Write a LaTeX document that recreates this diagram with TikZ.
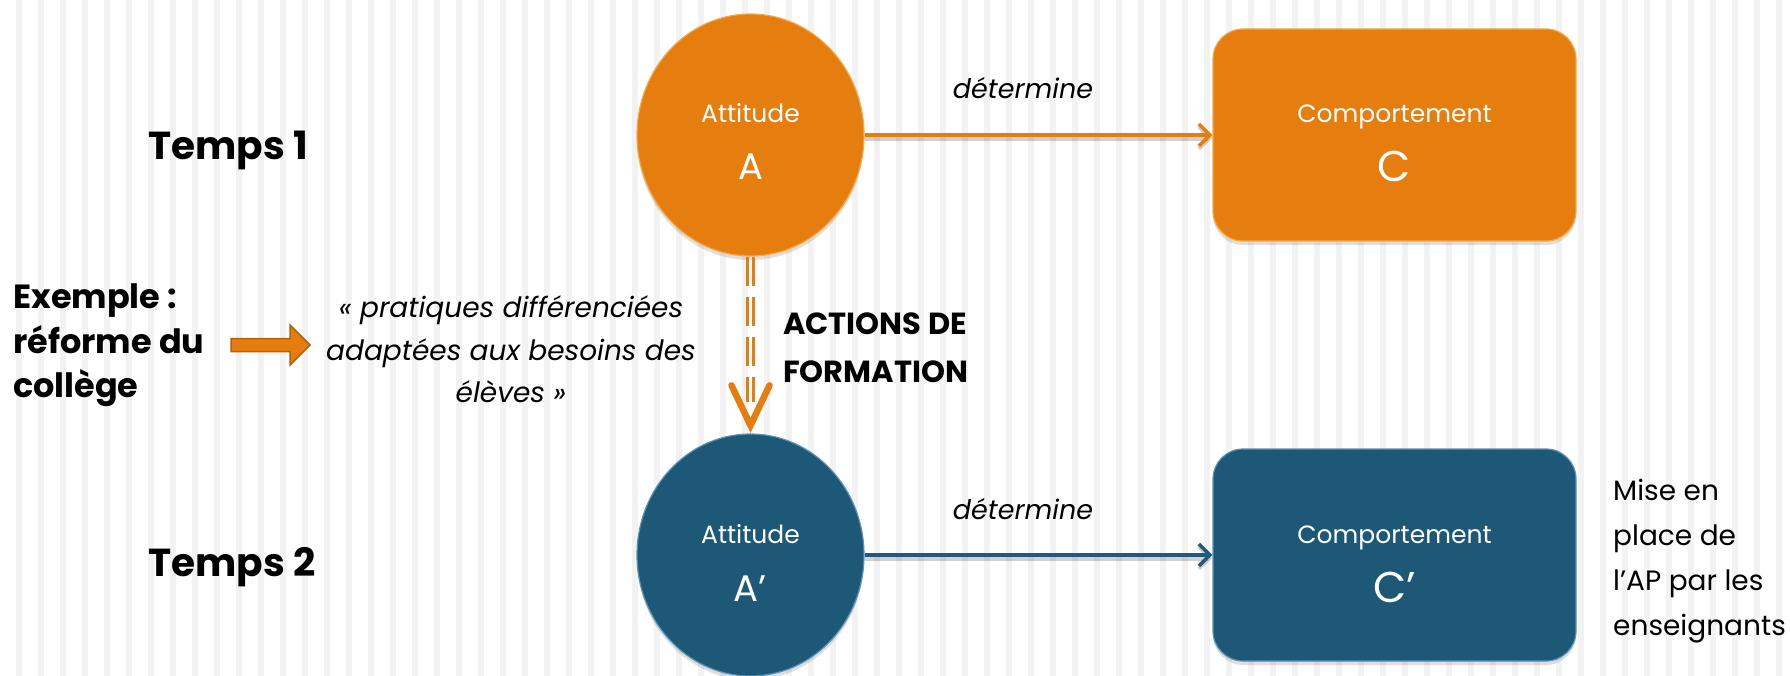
\documentclass[tikz,border=0pt]{standalone}
\usepackage{fontspec}
\setmainfont{Poppins}
\usetikzlibrary{shapes.geometric,arrows.meta,shadows,calc}
\definecolor{org}{HTML}{E67D0F}
\definecolor{orgedge}{HTML}{F4A948}
\definecolor{blu}{HTML}{1E5877}
\definecolor{bluedge}{HTML}{5B93B6}
\definecolor{stripe}{HTML}{F2F2F2}
\definecolor{arrdark}{HTML}{B4600C}
\definecolor{bluline}{HTML}{24597B}
\begin{document}
\begin{tikzpicture}[x=1pt,y=-1pt,
  oval/.style={ellipse, minimum width=227pt, minimum height=242pt, inner sep=0pt, line width=1.2pt,
    drop shadow={shadow xshift=0pt, shadow yshift=-4pt, opacity=.25}},
  cbox/.style={rectangle, rounded corners=30pt, minimum width=363pt, minimum height=212pt, inner sep=0pt, line width=1.2pt,
    drop shadow={shadow xshift=0pt, shadow yshift=-4pt, opacity=.25}},
  intext/.style={text=white, inner sep=0pt, anchor=base},
  small/.style={font=\fontsize{25}{30}\selectfont},
  bigA/.style={font=\fontsize{37}{40}\selectfont},
  bigC/.style={font=\fontsize{43}{46}\selectfont},
  lab/.style={inner sep=0pt, anchor=base, font=\fontsize{27}{32}\selectfont\itshape},
  quoteline/.style={inner sep=0pt, anchor=base, font=\fontsize{28}{32}\selectfont\itshape},
  boldline/.style={inner sep=0pt, anchor=base west, font=\fontsize{33.5}{36}\selectfont\bfseries},
  temps/.style={inner sep=0pt, anchor=base west, font=\fontsize{39}{42}\selectfont\bfseries},
  actline/.style={inner sep=0pt, anchor=base west, font=\fontsize{30.5}{34}\selectfont\bfseries},
  noteline/.style={inner sep=0pt, anchor=base west, font=\fontsize{28}{32}\selectfont},
  linkshadow/.style={preaction={draw=black, opacity=.18, line width=6pt, transform canvas={yshift=-3pt}}},
  oarr/.style={draw=org, line width=4pt, -{Straight Barb[length=11pt, width=22pt, line width=3.5pt]}},
  barr/.style={draw=bluline, line width=4pt, -{Straight Barb[length=11pt, width=22pt, line width=3.5pt]}},
  dline/.style={draw=org, line width=3.2pt, dash pattern=on 29pt off 11pt},
  chev/.style={draw=org, line width=6.5pt, line cap=round, line join=miter},
  blockarrow/.style={fill=org, draw=arrdark, line width=1.5pt, line join=miter}
]
% background
\fill[white] (0,0) rectangle (1790,676);
\useasboundingbox (0,0) rectangle (1790,676);
\foreach \k in {0,...,81} \fill[stripe] ({16+22*\k},0) rectangle ++(6,676);

% main shapes
\node[oval, fill=org, draw=orgedge] (A) at (750.5,135) {};
\node[cbox, fill=org, draw=orgedge] (C) at (1394.5,135) {};
\node[oval, fill=blu, draw=bluedge] (A2) at (750.5,555) {};
\node[cbox, fill=blu, draw=bluedge] (C2) at (1394.5,555) {};

% texts inside
\node[intext, small] (At) at (750.5,123) {Attitude};
\node[intext, bigA] (Al) at (750.5,180) {A};
\node[intext, small] (Ct) at (1394.5,123) {Comportement};
\node[intext, bigC] (Cl) at (1394.5,182) {C};
\node[intext, small] (A2t) at (750.5,543) {Attitude};
\node[intext, bigA] (A2l) at (750.5,601) {A’};
\node[intext, small] (C2t) at (1394.5,543) {Comportement};
\node[intext, bigC] (C2l) at (1394.5,602) {C’};

% horizontal connectors
\draw[oarr, linkshadow] (A.east) -- (C.west);
\draw[barr, linkshadow] (A2.east) -- (C2.west);
\node[lab] (d1) at (1023,99) {détermine};
\node[lab] (d2) at (1023,519) {détermine};

% vertical double dashed arrow
\coordinate (Vend) at ($(A2.north)+(0,-31)$);
\draw[dline, transform canvas={xshift=-3pt}] (A.south) -- (Vend);
\draw[dline, transform canvas={xshift=3pt}] (A.south) -- (Vend);
\coordinate (Vtip) at ($(A2.north)+(0,-8)$);
\draw[chev] ($(Vtip)+(-19,-40)$) -- (Vtip) -- ($(Vtip)+(19,-40)$);

\node[actline] (act1) at (783,334) {ACTIONS DE};
\node[actline] (act2) at (783,382) {FORMATION};

% left texts
\node[temps] (T1) at (148,160) {Temps 1};
\node[temps] (T2) at (148,576) {Temps 2};
\node[boldline] (ex1) at (13,308) {Exemple :};
\node[boldline] (ex2) at (13,353) {réforme du};
\node[boldline] (ex3) at (13,397) {collège};

% block arrow
\draw[blockarrow] (231,338.5) -- (290,338.5) -- (290,325) -- (310,345) -- (290,365) -- (290,351.5) -- (231,351.5) -- cycle;

% quote
\node[quoteline] (q1) at (511,317) {« pratiques différenciées};
\node[quoteline] (q2) at (511,360) {adaptées aux besoins des};
\node[quoteline] (q3) at (511,402) {élèves »};

% right note
\node[noteline] (n1) at (1613,500) {Mise en};
\node[noteline] (n2) at (1613,545) {place de};
\node[noteline] (n3) at (1613,590) {l’AP par les};
\node[noteline] (n4) at (1613,635) {enseignants};
\end{tikzpicture}
\end{document}
